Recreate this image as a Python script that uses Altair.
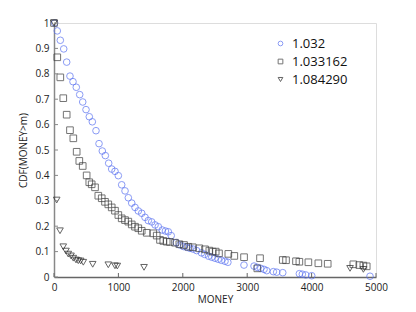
import altair as alt
import pandas as pd

s1_x = [10, 51, 98, 151, 197, 248, 295, 346, 399, 446, 497, 548, 595, 652, 699, 750, 797, 849, 896, 947,
        999, 1051, 1103, 1154, 1207, 1258, 1309, 1362, 1413, 1464, 1517, 1569, 1620, 1680, 1730, 1775, 1820,
        1900, 1955, 2010, 2060, 2110, 2160, 2215, 2290, 2340, 2400, 2450, 2500, 2550, 2600, 2655, 2700,
        2950, 3106, 3157, 3210, 3261, 3303, 3406, 3458, 3552, 3810, 3856, 3909, 4002, 4907]
s1_y = [1.0, 0.969, 0.932, 0.898, 0.846, 0.791, 0.769, 0.747, 0.718, 0.689, 0.659, 0.631, 0.611, 0.576, 0.525,
        0.496, 0.478, 0.448, 0.425, 0.416, 0.399, 0.363, 0.339, 0.312, 0.291, 0.274, 0.260, 0.251, 0.235,
        0.222, 0.217, 0.205, 0.198, 0.185, 0.181, 0.178, 0.163, 0.135, 0.126, 0.120, 0.117, 0.113, 0.110,
        0.104, 0.095, 0.089, 0.082, 0.078, 0.074, 0.070, 0.066, 0.062, 0.058, 0.047, 0.043, 0.038, 0.034,
        0.030, 0.025, 0.021, 0.019, 0.017, 0.013, 0.011, 0.008, 0.005, 0.003]

s2_x = [0, 51, 98, 144, 197, 248, 300, 352, 393, 446, 507, 548, 585, 637, 688, 741, 792, 843, 896, 947,
        999, 1051, 1103, 1154, 1207, 1258, 1309, 1362, 1440, 1542, 1595, 1646, 1697, 1750, 1801, 1879,
        1946, 2019, 2086, 2154, 2257, 2345, 2412, 2464, 2511, 2562, 2707, 2800, 2951, 3157, 3199,
        3552, 3603, 3758, 3810, 3950, 4105, 4250, 4648, 4741, 4804, 4856]
s2_y = [1.0, 0.865, 0.786, 0.704, 0.639, 0.578, 0.546, 0.493, 0.457, 0.437, 0.400, 0.373, 0.365, 0.353,
        0.320, 0.310, 0.296, 0.286, 0.274, 0.261, 0.244, 0.231, 0.224, 0.218, 0.207, 0.198, 0.192, 0.182,
        0.174, 0.172, 0.163, 0.146, 0.142, 0.139, 0.138, 0.135, 0.129, 0.126, 0.119, 0.117, 0.113, 0.109,
        0.104, 0.100, 0.100, 0.093, 0.091, 0.083, 0.078, 0.034, 0.074, 0.067, 0.066, 0.062, 0.060, 0.058,
        0.054, 0.052, 0.050, 0.047, 0.045, 0.042]

s3_x = [0, 42, 93, 144, 186, 222, 264, 300, 342, 377, 414, 455, 601, 843, 947, 983, 1398, 4597, 4804]
s3_y = [1.0, 0.303, 0.182, 0.119, 0.102, 0.090, 0.083, 0.074, 0.067, 0.064, 0.063, 0.058, 0.050, 0.048,
        0.044, 0.043, 0.038, 0.034, 0.030]

names = ["1.032", "1.033162", "1.084290"]
colors = ["#5a72f2", "#3a3a3a", "#222222"]
shapes = ["circle", "square", "triangle-down"]
y_ticks = [0, 0.1, 0.2, 0.3, 0.4, 0.5, 0.6, 0.7, 0.8, 0.9, 1.0]
x_ticks = [0, 1000, 2000, 3000, 4000, 5000]

rows = []
for name, xs, ys in [(names[0], s1_x, s1_y), (names[1], s2_x, s2_y), (names[2], s3_x, s3_y)]:
    for a, b in zip(xs, ys):
        rows.append({"money": a, "cdf": b, "series": name})
df = pd.DataFrame(rows)

FONT = "Open Sans"
W, H = 322, 254

xscale = alt.Scale(domain=[0, 5000], nice=False)
yscale = alt.Scale(domain=[0, 1], nice=False)

xaxis = alt.Axis(title="MONEY", values=x_ticks, format="d", ticks=False, grid=False,
                 labelOverlap=False, labelFlush=False,
                 domainColor="#666", domainWidth=1.5, labelFont=FONT, labelFontSize=10,
                 labelColor="#222", labelPadding=5, titleFont=FONT, titleFontSize=10,
                 titleFontWeight="normal", titleColor="#222", titlePadding=2)
yaxis = alt.Axis(title="CDF(MONEY>m)", values=y_ticks, format="~g", ticks=False, grid=False,
                 labelOverlap=False, labelFlush=False,
                 domainColor="#888", domainWidth=1.5, labelFont=FONT, labelFontSize=10,
                 labelColor="#222", labelPadding=5, titleFont=FONT, titleFontSize=10,
                 titleFontWeight="normal", titleColor="#222", titlePadding=6)

points = alt.Chart(df).mark_point(filled=False, strokeWidth=1, size=44).encode(
    x=alt.X("money:Q", scale=xscale, axis=xaxis),
    y=alt.Y("cdf:Q", scale=yscale, axis=yaxis),
    color=alt.Color("series:N", scale=alt.Scale(domain=names, range=colors),
                    legend=alt.Legend(title=None, orient="none", legendX=220, legendY=14,
                                      labelFont=FONT, labelFontSize=13, labelColor="#111",
                                      symbolSize=22, symbolStrokeWidth=1, rowPadding=4,
                                      labelOffset=5)),
    shape=alt.Shape("series:N", scale=alt.Scale(domain=names, range=shapes)),
)

ytick_df = pd.DataFrame({"v": y_ticks})
yticks = alt.Chart(ytick_df).mark_rule(color="#888", strokeWidth=1).encode(
    y=alt.Y("v:Q", scale=yscale, axis=yaxis), x=alt.value(0), x2=alt.value(4))
xtick_df = pd.DataFrame({"v": x_ticks})
xticks = alt.Chart(xtick_df).mark_rule(color="#666", strokeWidth=1).encode(
    x=alt.X("v:Q", scale=xscale, axis=xaxis), y=alt.value(H), y2=alt.value(H - 4))

chart = alt.layer(points, yticks, xticks).properties(
    width=W, height=H, padding={"left": 46, "top": 15, "right": 30, "bottom": 30},
    autosize=alt.AutoSizeParams(type="none")
).configure_view(stroke=None).configure(background="white")

chart.save("out.html", embed_options={"renderer": "svg", "actions": False})
